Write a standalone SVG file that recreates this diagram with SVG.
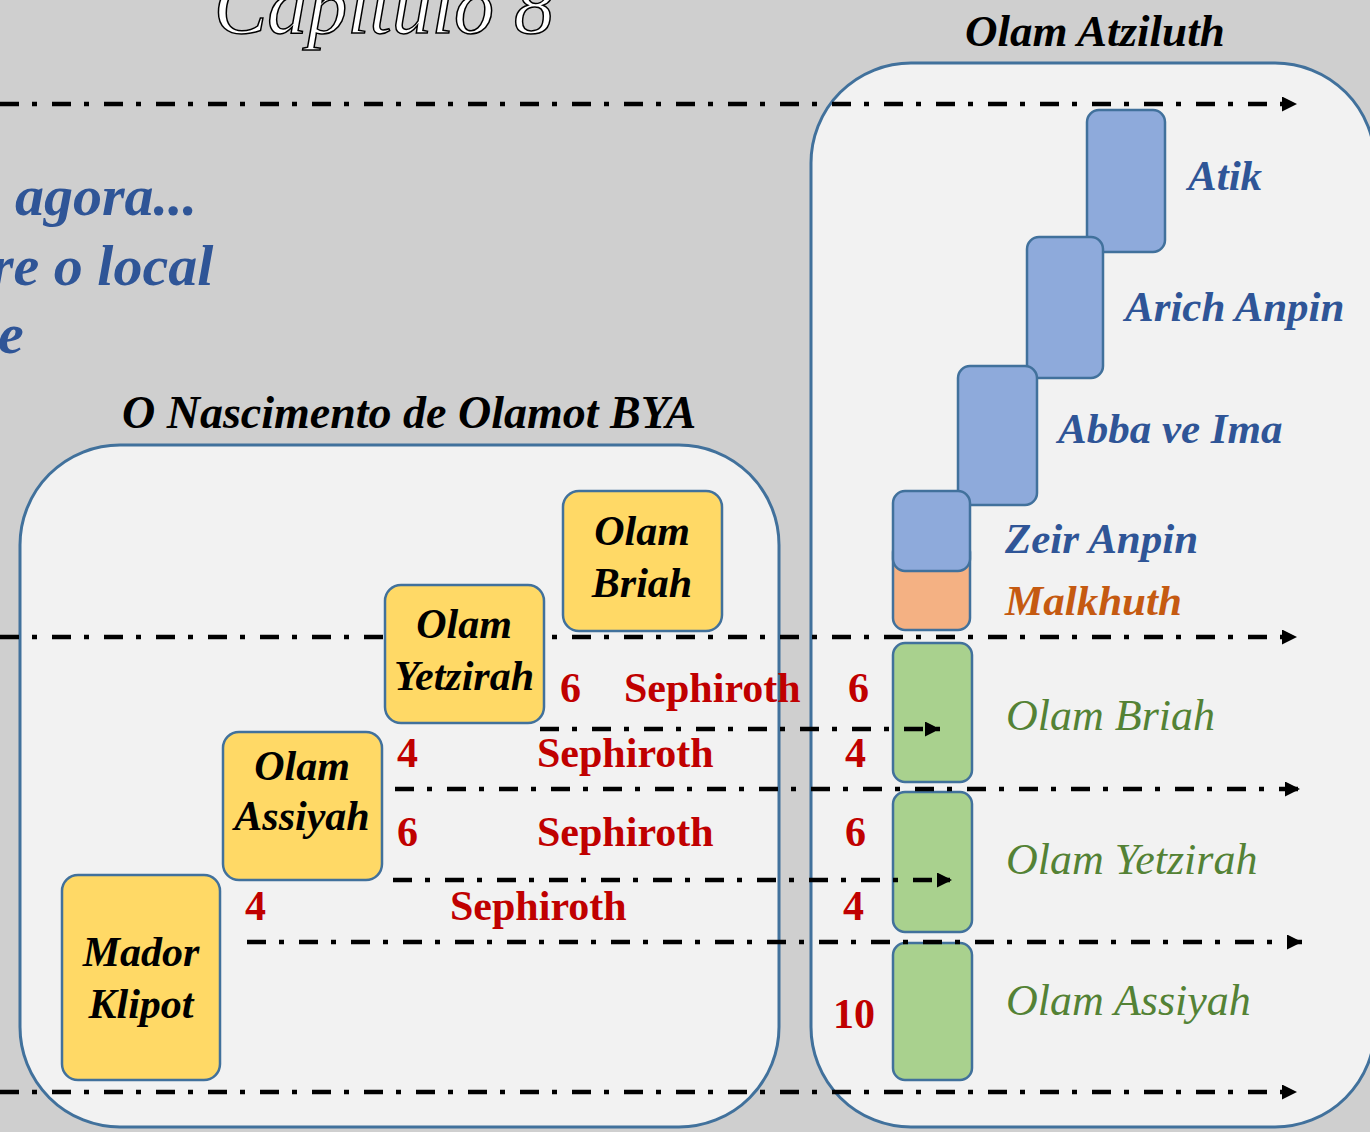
<svg xmlns="http://www.w3.org/2000/svg" width="1370" height="1132" viewBox="0 0 1370 1132">
<defs>
<style>
.panel{fill:#f2f2f2;stroke:#41719c;stroke-width:3}
.yb{fill:#ffd966;stroke:#41719c;stroke-width:2.5}
.bb{fill:#8eaadb;stroke:#41719c;stroke-width:2.5}
.ob{fill:#f4b183;stroke:#41719c;stroke-width:2.5}
.gb{fill:#a9d18e;stroke:#41719c;stroke-width:2.5}
.ln{stroke:#000;stroke-width:4.5;stroke-dasharray:19 13 5 15;fill:none}
.bi{font-family:"Liberation Serif",serif;font-style:italic;font-weight:bold}
.blk{fill:#000}
.blu{fill:#2f5597}
.grn{fill:#548235;font-family:"Liberation Serif",serif;font-style:italic;font-size:44px}
.red{fill:#c00000;font-family:"Liberation Serif",serif;font-weight:bold;font-size:42px}
.lbl{font-size:42px;text-anchor:middle}
</style>
<marker id="ah" markerWidth="15" markerHeight="15" refX="15" refY="7.5" orient="auto" markerUnits="userSpaceOnUse"><path d="M0,0 L15,7.5 L0,15 z" fill="#000"/></marker>
</defs>
<rect width="1370" height="1132" fill="#cfcfcf"/>

<text x="384" y="33" text-anchor="middle" font-family="Liberation Serif,serif" font-style="italic" font-size="80" fill="#fff" stroke="#000" stroke-width="1.5">Capitulo 8</text>
<text class="bi blk" x="965" y="46" font-size="45">Olam Atziluth</text>
<text class="bi blu" x="15" y="215" font-size="58">agora...</text>
<text class="bi blu" x="-9" y="285" font-size="58">re o local</text>
<text class="bi blu" x="-2" y="353" font-size="58">e</text>
<text class="bi blk" x="122" y="428" font-size="46">O Nascimento de Olamot BYA</text>

<g id="panel-bya"><rect class="panel" x="20" y="445" width="759" height="682" rx="100"/></g>
<g id="panel-atziluth"><rect class="panel" x="811" y="63" width="564" height="1064" rx="100"/></g>

<g id="atik"><rect class="bb" x="1087" y="110" width="78" height="142" rx="12"/><text class="bi blu" x="1188" y="190" font-size="43">Atik</text></g>
<g id="arich-anpin"><rect class="bb" x="1027" y="237" width="76" height="141" rx="12"/><text class="bi blu" x="1125" y="321" font-size="43">Arich Anpin</text></g>
<g id="abba-ve-ima"><rect class="bb" x="958" y="366" width="79" height="139" rx="12"/><text class="bi blu" x="1058" y="443" font-size="43">Abba ve Ima</text></g>
<g id="malkhuth"><rect class="ob" x="893" y="540" width="77" height="90" rx="12"/><text class="bi" fill="#c55a11" x="1005" y="615" font-size="43">Malkhuth</text></g>
<g id="zeir-anpin"><rect class="bb" x="893" y="491" width="77" height="80" rx="12"/><text class="bi blu" x="1005" y="553" font-size="43">Zeir Anpin</text></g>
<g id="olam-briah-r"><rect class="gb" x="893" y="643" width="79" height="139" rx="12"/><text class="grn" x="1006" y="730">Olam Briah</text></g>
<g id="olam-yetzirah-r"><rect class="gb" x="893" y="792" width="79" height="140" rx="12"/><text class="grn" x="1006" y="874">Olam Yetzirah</text></g>
<g id="olam-assiyah-r"><rect class="gb" x="893" y="943" width="79" height="137" rx="12"/><text class="grn" x="1006" y="1015">Olam Assiyah</text></g>

<g id="connectors">
<line class="ln" x1="0" y1="104" x2="1297" y2="104" marker-end="url(#ah)"/>
<line class="ln" x1="0" y1="637" x2="1297" y2="637" marker-end="url(#ah)"/>
<line class="ln" x1="540" y1="729" x2="940" y2="729" marker-end="url(#ah)"/>
<line class="ln" x1="395" y1="789" x2="1300" y2="789" marker-end="url(#ah)"/>
<line class="ln" x1="393" y1="880" x2="952" y2="880" marker-end="url(#ah)"/>
<line class="ln" x1="247" y1="942" x2="1302" y2="942" marker-end="url(#ah)"/>
<line class="ln" x1="0" y1="1092" x2="1297" y2="1092" marker-end="url(#ah)"/>
</g>

<g id="olam-briah"><rect class="yb" x="563" y="491" width="159" height="140" rx="16"/><text class="bi blk lbl" x="642" y="545">Olam</text><text class="bi blk lbl" x="642" y="597">Briah</text></g>
<g id="olam-yetzirah"><rect class="yb" x="385" y="585" width="159" height="138" rx="16"/><text class="bi blk lbl" x="464" y="638">Olam</text><text class="bi blk lbl" x="464" y="690">Yetzirah</text></g>
<g id="olam-assiyah"><rect class="yb" x="223" y="732" width="159" height="148" rx="16"/><text class="bi blk lbl" x="302" y="780">Olam</text><text class="bi blk lbl" x="302" y="830">Assiyah</text></g>
<g id="mador-klipot"><rect class="yb" x="62" y="875" width="158" height="205" rx="16"/><text class="bi blk lbl" x="141" y="966">Mador</text><text class="bi blk lbl" x="141" y="1018">Klipot</text></g>

<g id="counts">
<text class="red" x="560" y="702">6</text><text class="red" x="624" y="702">Sephiroth</text><text class="red" x="848" y="702">6</text>
<text class="red" x="397" y="767">4</text><text class="red" x="537" y="767">Sephiroth</text><text class="red" x="845" y="767">4</text>
<text class="red" x="397" y="846">6</text><text class="red" x="537" y="846">Sephiroth</text><text class="red" x="845" y="846">6</text>
<text class="red" x="245" y="920">4</text><text class="red" x="450" y="920">Sephiroth</text><text class="red" x="843" y="920">4</text>
<text class="red" x="833" y="1028">10</text>
</g>
</svg>
